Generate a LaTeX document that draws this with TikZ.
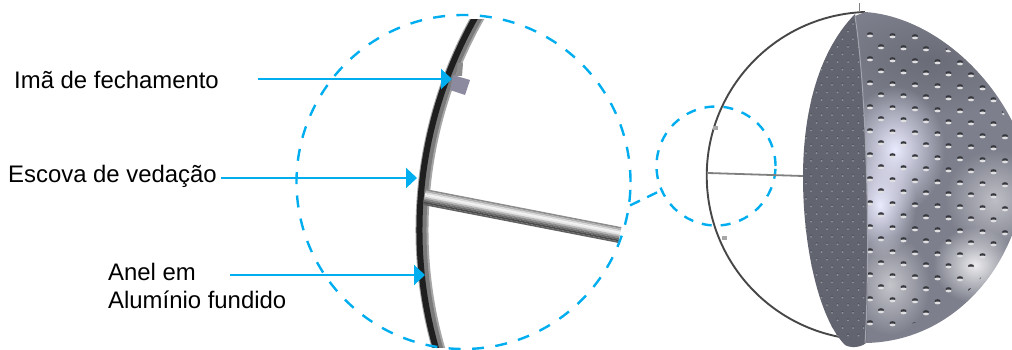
\documentclass[tikz,border=0pt]{standalone}
\usepackage{fontspec}
\setmainfont{Liberation Sans}
\usetikzlibrary{arrows.meta,fadings}
\definecolor{pAzul}{HTML}{00AEEF}
\definecolor{pCorpo}{HTML}{7D7F8C}
\definecolor{pLente}{HTML}{62646F}
\definecolor{pIma}{HTML}{8C8A9E}
\tikzfading[name=pMancha, inner color=transparent!0, outer color=transparent!100]
\tikzset{
  rotulo/.style={anchor=west, inner sep=0pt, font=\fontsize{23.9}{27.5}\selectfont, align=left},
  seta/.style={draw=pAzul, line width=2.2pt, -{Triangle[length=11pt,width=20pt]}},
  lupa/.style={circle, draw=pAzul, line width=2.4pt, inner sep=0pt},
  ligacao/.style={draw=pAzul, line width=2.4pt, dash pattern=on 11pt off 8pt},
  anel/.style={line width=1.9pt, draw=black!72},
}
\newcommand{\pCorpoPath}{(865,12) .. controls (925,16) and (985,65) .. (1014,125) -- (1014,230) .. controls (990,295) and (935,342) .. (865,343) .. controls (870,270) and (868,100) .. (855,16) -- cycle}
\newcommand{\pLentePath}{(855,14) .. controls (815,55) and (803,120) .. (803,177) .. controls (803,250) and (820,320) .. (845,345) .. controls (850,348) and (860,348) .. (866,343) .. controls (870,270) and (868,100) .. (855,14) -- cycle}
\begin{document}
\begin{tikzpicture}[x=1pt,y=-1pt]
\useasboundingbox (0,0) rectangle (1012,350);
\begin{scope}
\clip (400,20) rectangle (500,347);
\draw[line width=13pt, draw=black!35] (483.2,8) arc[start angle=210.84,end angle=162.95,radius=433];
\draw[line width=10pt, draw=black!52] (482.7,8) arc[start angle=210.84,end angle=162.95,radius=433];
\draw[line width=6pt, draw=black!88] (480.7,8) arc[start angle=210.84,end angle=162.95,radius=433];
\end{scope}
\fill[pIma] (453,75) -- (470,80) -- (465,95) -- (450,90) -- cycle;
\fill[black!45] (458,63) -- (463,63) -- (462,76) -- (456,76) -- cycle;
\begin{scope}[shift={(424.5,197)},rotate=-11]
\foreach \dy/\tono in {-8/45,-6.4/30,-4.8/15,-3.2/5,-1.6/10,0/28,1.6/45,3.2/58,4.8/70,6.4/62} {
  \fill[black!\tono] (0,\dy) rectangle (199,\dy+1.7);
}
\end{scope}
\node[lupa, minimum size=334pt, dash pattern=on 12pt off 11.4pt] (lupaGrande) at (463.5,182) {};
\node[lupa, minimum size=119pt, dash pattern=on 10pt off 9pt] (lupaPequena) at (716,166) {};
\draw[ligacao] (lupaGrande.-8.5) -- (lupaPequena.204);
\draw[anel] (865,12) arc[start angle=268,end angle=101,radius=164];
\draw[line width=1.8pt, draw=black!50] (708,173) -- (803,176);
\draw[line width=.5pt, draw=black!50] (859,3) -- (859,12);
\fill[black!35] (713,126) rectangle (718,130);
\fill[black!35] (722,236) rectangle (727,240);
\begin{scope}
\clip (0,0) rectangle (1012,350);
\fill[pCorpo] \pCorpoPath;
\begin{scope}
\clip \pCorpoPath;
\fill[pCorpo!85!black, path fading=pMancha] (930,60) ellipse (110 and 55);
\fill[white!92!blue, path fading=pMancha] (895,150) ellipse (50 and 64);
\fill[white!92!blue, path fading=pMancha] (880,205) ellipse (36 and 52);
\fill[white, opacity=.5, path fading=pMancha] (995,200) ellipse (50 and 50);
\fill[white, opacity=.85, path fading=pMancha] (975,265) ellipse (42 and 38);
\fill[white, opacity=.55, path fading=pMancha] (890,285) ellipse (40 and 50);
\clip (865,178) circle (153);
\foreach \fila in {0,...,26} {
  \foreach \col in {0,...,6} {
    \pgfmathsetmacro{\px}{870+22.5*\col+11*mod(\fila,2)}
    \pgfmathsetmacro{\py}{34+12*\fila+\col}
    \fill[black!45!pLente] (\px,\py) ellipse (3 and 1.8);
    \fill[white!75!pCorpo] (\px,\py+1.9) ellipse (3 and 1.4);
  }
}
\end{scope}
\fill[pLente] \pLentePath;
\begin{scope}
\clip \pLentePath;
\foreach \fila in {0,...,42} {
  \foreach \col in {0,...,5} {
    \pgfmathsetmacro{\px}{806+10.5*\col+5*mod(\fila,2)}
    \pgfmathsetmacro{\py}{16+7.6*\fila}
    \fill[black!18!pLente] (\px,\py-.7) circle (1.1);
    \fill[white!30!pLente] (\px,\py+.4) circle (1);
  }
}
\end{scope}
\draw[line width=1pt, draw=white!30!pCorpo] (855,16) .. controls (868,100) and (870,270) .. (865,343);
\end{scope}
\node[rotulo] (ima) at (14,80) {Imã de fechamento};
\node[rotulo] (escova) at (8,176) {Escova de vedação};
\node[rotulo] (anelAl) at (108,286) {Anel em\\Alumínio fundido};
\coordinate (imaIni) at (258,79);
\coordinate (imaFim) at (452,79);
\coordinate (escovaFim) at (417,178);
\coordinate (anelIni) at (230,275);
\coordinate (anelFim) at (425,275);
\draw[seta] (imaIni) -- (imaFim);
\draw[seta] (escova.east |- escovaFim) ++(4,0) -- (escovaFim);
\draw[seta] (anelIni) -- (anelFim);
\end{tikzpicture}
\end{document}
